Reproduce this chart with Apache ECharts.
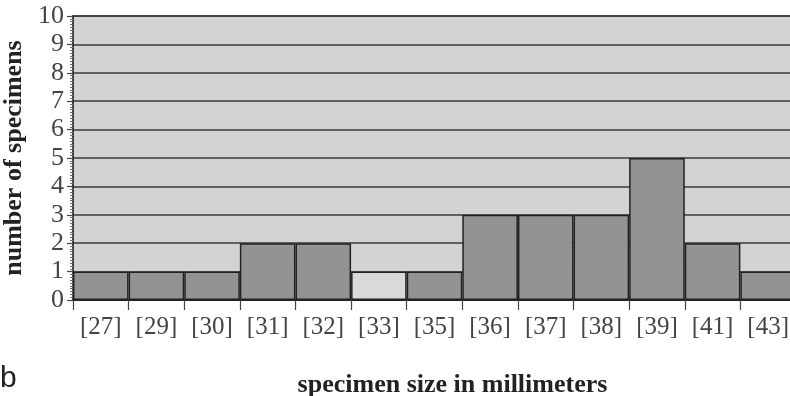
<!DOCTYPE html>
<html>
<head>
<meta charset="utf-8">
<script src="https://cdn.jsdelivr.net/npm/echarts@6/dist/echarts.min.js"></script>
<style>
  html, body { margin: 0; padding: 0; background: #ffffff; }
  #chart { width: 790px; height: 396px; }
</style>
</head>
<body>
<div id="chart"></div>
<script>
// Specimen size classes (mm) and how many specimens fall in each
const sizeClasses = ['[27]', '[29]', '[30]', '[31]', '[32]', '[33]', '[35]', '[36]', '[37]', '[38]', '[39]', '[41]', '[43]'];
const specimenCounts = [1, 1, 1, 2, 2, 1, 1, 3, 3, 3, 5, 2, 1];
const countTicks = [0, 1, 2, 3, 4, 5, 6, 7, 8, 9, 10];

// Size class drawn with the pale fill
const paleClasses = ['[33]'];

const serif = '"Liberation Serif", "DejaVu Serif", serif';

const barData = sizeClasses.map((c, i) => ({
  value: specimenCounts[i],
  itemStyle: paleClasses.includes(c) ? { color: '#d9d9d9' } : undefined
}));

const chart = echarts.init(document.getElementById('chart'), null, { renderer: 'canvas' });

chart.setOption({
  animation: false,
  backgroundColor: '#ffffff',
  grid: {
    left: 73, top: 16, bottom: 96, right: -6,
    containLabel: false,
    outerBoundsMode: 'none',
    show: true,
    backgroundColor: '#d3d3d3',
    borderColor: '#3a3a3a',
    borderWidth: 1.5
  },
  xAxis: {
    type: 'category',
    data: sizeClasses,
    boundaryGap: true,
    name: 'specimen size in millimeters',
    nameLocation: 'middle',
    nameGap: 72,
    nameTextStyle: { fontFamily: serif, fontWeight: 'bold', fontSize: 26, color: '#222', padding: [0, 0, 0, 36] },
    axisLine: { show: true, lineStyle: { color: '#222', width: 2 } },
    axisTick: { show: true, alignWithLabel: false, length: 10, lineStyle: { color: '#444', width: 1.2 } },
    axisLabel: { fontFamily: serif, fontSize: 25, color: '#444', margin: 15 },
    splitLine: { show: false }
  },
  yAxis: {
    type: 'value',
    min: countTicks[0],
    max: countTicks[countTicks.length - 1],
    interval: 1,
    name: 'number of specimens',
    nameLocation: 'middle',
    nameGap: 40,
    nameRotate: 90,
    nameTextStyle: { fontFamily: serif, fontWeight: 'bold', fontSize: 26, color: '#222' },
    axisLine: { show: true, lineStyle: { color: '#333', width: 1.5 } },
    axisTick: { show: true, inside: false, length: 6, lineStyle: { color: '#444', width: 1.2 } },
    minorTick: { show: true, splitNumber: 10, length: 3, lineStyle: { color: '#777', width: 1 } },
    axisLabel: { fontFamily: serif, fontSize: 26, color: '#444', margin: 9 },
    splitLine: { show: true, lineStyle: { color: '#3a3a3a', width: 1.5 } }
  },
  series: [{
    type: 'bar',
    data: barData,
    barCategoryGap: '0%',
    itemStyle: { color: '#939393', borderColor: '#222', borderWidth: 1.5 },
    z: 3
  }],
  graphic: [{
    type: 'text',
    left: 0,
    top: 364,
    style: { text: 'b', font: '30px "Liberation Sans", Arial, sans-serif', fill: '#222' }
  }]
});
</script>
</body>
</html>
